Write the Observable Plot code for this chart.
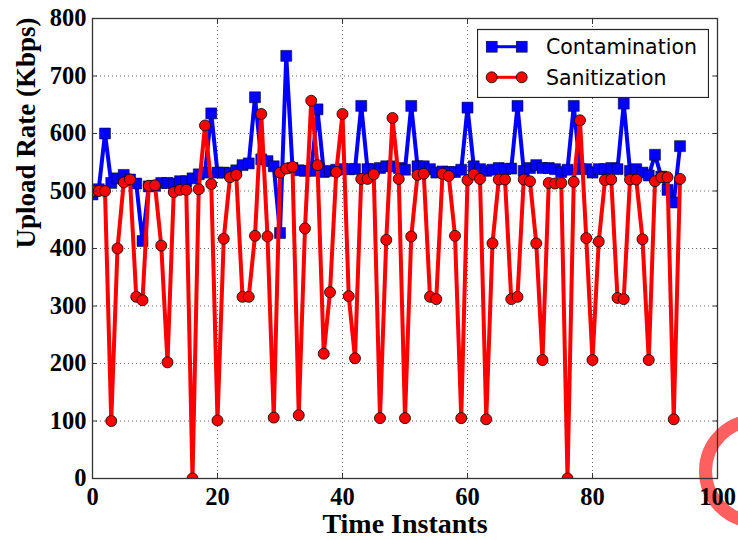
<!DOCTYPE html>
<html>
<head>
<meta charset="utf-8">
<script src="https://cdn.jsdelivr.net/npm/d3@7"></script>
<script src="https://cdn.jsdelivr.net/npm/@observablehq/plot@0.6"></script>
<style>
  html, body { margin: 0; padding: 0; background: #fff; overflow: hidden; }
  #wrap { position: relative; width: 738px; height: 540px; }
  #arc { position: absolute; left: 699px; top: 414px; width: 114px; height: 114px;
         box-sizing: border-box; border: 13px solid rgba(255, 60, 60, 0.82); border-radius: 50%; z-index: 0; }
  #chart { position: absolute; left: 0; top: 0; z-index: 1; }
  #legend { position: absolute; z-index: 2; }
</style>
</head>
<body>
<div id="wrap"><div id="arc"></div><div id="chart"></div></div>
<script>
// ---- data ----
const seriesNames = ["Contamination", "Sanitization"];
const seriesColors = ["#0000ff", "#ff0000"];
const xTicks = [0, 20, 40, 60, 80, 100];
const yTicks = [0, 100, 200, 300, 400, 500, 600, 700, 800];
const timeInstants = [
  0,1,2,3,4,5,6,7,8,9,10,11,12,13,14,15,16,17,18,19,
  20,21,22,23,24,25,26,27,28,29,30,31,32,33,34,35,36,37,38,39,
  40,41,42,43,44,45,46,47,48,49,50,51,52,53,54,55,56,57,58,59,
  60,61,62,63,64,65,66,67,68,69,70,71,72,73,74,75,76,77,78,79,
  80,81,82,83,84,85,86,87,88,89,90,91,92,93,94
];
const contamination = [
  494,503,600,514,522,528,520,513,413,508,509,514,514,513,517,517,522,529,532,635,
  532,532,531,536,545,548,663,555,552,543,427,735,540,536,535,535,642,533,535,537,
  538,538,538,648,538,538,540,543,543,540,537,648,543,543,538,532,534,533,533,537,
  645,543,538,535,537,540,538,539,648,535,540,545,540,540,538,533,537,648,538,538,
  532,538,538,540,538,652,535,538,532,527,563,525,502,480,578
];
const sanitization = [
  500,500,500,100,400,515,520,316,310,509,510,405,202,498,502,502,0,503,614,512,
  101,417,524,528,316,316,422,634,421,106,532,539,542,110,435,657,545,217,324,533,
  634,317,209,521,521,529,105,415,627,521,105,421,528,530,316,312,530,526,422,105,
  519,529,521,103,409,520,520,312,316,520,517,409,206,514,513,514,0,516,623,418,
  206,412,519,520,314,312,520,520,416,206,517,524,524,103,521
];
const xLabel = "Time Instants";
const yLabel = "Upload Rate (Kbps)";

const rows = timeInstants.map((t, i) => ({t, contamination: contamination[i], sanitization: sanitization[i]}));

const tickFont = {fontSize: 24.5, fontWeight: "bold", fill: "#000"};
const noText = () => "";

const chart = Plot.plot({
  width: 738,
  height: 540,
  marginLeft: 92,
  marginRight: 21,
  marginTop: 18,
  marginBottom: 62,
  style: {background: "transparent", fontFamily: "'Liberation Serif', 'Times New Roman', serif", color: "#000"},
  x: {domain: [0, 100]},
  y: {domain: [0, 800]},
  marks: [
    Plot.gridX(xTicks, {stroke: "#000", strokeOpacity: 0.6, strokeWidth: 1, strokeDasharray: "1,3"}),
    Plot.gridY(yTicks, {stroke: "#000", strokeOpacity: 0.6, strokeWidth: 1, strokeDasharray: "1,3"}),
    Plot.line(rows, {x: "t", y: "contamination", stroke: seriesColors[0], strokeWidth: 4, clip: true}),
    Plot.dot(rows, {x: "t", y: "contamination", symbol: "square", r: 6.2, fill: seriesColors[0], stroke: "#000", strokeWidth: 0.5, clip: true}),
    Plot.line(rows, {x: "t", y: "sanitization", stroke: seriesColors[1], strokeWidth: 4, clip: true}),
    Plot.dot(rows, {x: "t", y: "sanitization", r: 5.5, fill: seriesColors[1], stroke: "#000", strokeWidth: 0.8, clip: true}),
    Plot.frame({stroke: "#333", strokeWidth: 1.3}),
    // inward ticks on all four sides
    Plot.axisX(xTicks, {anchor: "bottom", tickSize: -5, tickFormat: noText, label: null, stroke: "#333"}),
    Plot.axisX(xTicks, {anchor: "top", tickSize: -5, tickFormat: noText, label: null, stroke: "#333"}),
    Plot.axisY(yTicks, {anchor: "left", tickSize: -5, tickFormat: noText, label: null, stroke: "#333"}),
    Plot.axisY(yTicks, {anchor: "right", tickSize: -5, tickFormat: noText, label: null, stroke: "#333"}),
    // tick labels
    Plot.axisX(xTicks, {anchor: "bottom", tickSize: 0, tickPadding: 9, label: null, ...tickFont}),
    Plot.axisY(yTicks, {anchor: "left", tickSize: 0, tickPadding: 6, label: null, ...tickFont}),
    // axis titles
    Plot.text([xLabel], {frameAnchor: "bottom", dy: 54, fontSize: 28, fontWeight: "bold", fill: "#000"}),
    Plot.text([yLabel], {frameAnchor: "left", dx: -66, dy: 0, rotate: -90, fontSize: 27, fontWeight: "bold", fill: "#000"})
  ]
});
document.getElementById("chart").appendChild(chart);

// legend (upper right, inside the frame)
const legend = d3.select("#wrap").append("svg")
  .attr("id", "legend")
  .attr("width", 232).attr("height", 70)
  .style("left", "477px").style("top", "28px");
legend.append("rect")
  .attr("x", 0.5).attr("y", 1.5).attr("width", 231).attr("height", 68)
  .attr("fill", "#fff").attr("stroke", "#222").attr("stroke-width", 1.2);
seriesNames.forEach((name, i) => {
  const cy = 18.7 + i * 30.6;
  const g = legend.append("g");
  g.append("line").attr("x1", 14.7).attr("x2", 44.7).attr("y1", cy).attr("y2", cy)
    .attr("stroke", seriesColors[i]).attr("stroke-width", 3);
  [14.7, 44.7].forEach(cx => {
    if (i === 0) {
      g.append("rect").attr("x", cx - 5.5).attr("y", cy - 5.5).attr("width", 11).attr("height", 11)
        .attr("fill", seriesColors[i]).attr("stroke", "#000").attr("stroke-width", 0.5);
    } else {
      g.append("circle").attr("cx", cx).attr("cy", cy).attr("r", 5.5)
        .attr("fill", seriesColors[i]).attr("stroke", "#000").attr("stroke-width", 0.8);
    }
  });
  g.append("text").attr("x", 69).attr("y", cy).attr("dy", "0.36em")
    .attr("font-family", "'DejaVu Sans', sans-serif").attr("font-size", 20.5).attr("fill", "#000")
    .text(name);
});
</script>
</body>
</html>
